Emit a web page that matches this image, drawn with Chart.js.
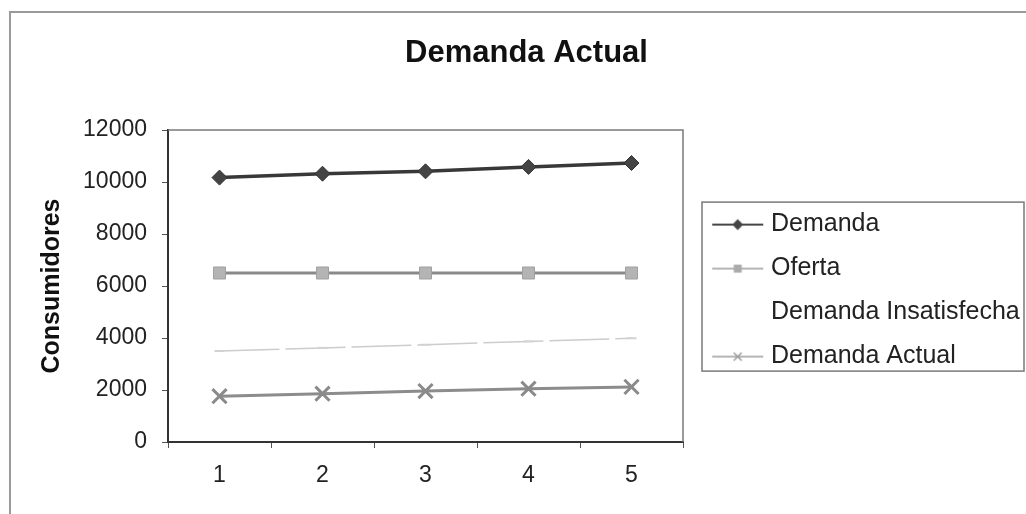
<!DOCTYPE html>
<html>
<head>
<meta charset="utf-8">
<script src="https://cdn.jsdelivr.net/npm/chart.js@4.4.1/dist/chart.umd.min.js"></script>
<style>
  html, body { margin: 0; padding: 0; background: #ffffff; }
  #wrap { position: relative; width: 1026px; height: 514px; }
  canvas { display: block; }
</style>
</head>
<body>
<div id="wrap"><canvas id="c" width="1026" height="514"></canvas></div>
<script>
// ---- data ----
const categories = ['1', '2', '3', '4', '5'];
const demanda = [10170, 10320, 10410, 10580, 10730];
const oferta = [6500, 6500, 6500, 6500, 6500];
const demandaInsatisfecha = [3500, 3620, 3740, 3870, 3990];
const demandaActual = [1760, 1860, 1960, 2050, 2120];
const yTickValues = [0, 2000, 4000, 6000, 8000, 10000, 12000];
const seriesNames = ['Demanda', 'Oferta', 'Demanda Insatisfecha', 'Demanda Actual'];
const chartTitle = 'Demanda Actual';
const yAxisTitle = 'Consumidores';

const FONT = "'Liberation Sans', Arial, Helvetica, sans-serif";

// ---- legend sample images (line + marker) ----
function legendSample(kind) {
  const c = document.createElement('canvas');
  c.width = 68; c.height = 20;
  const g = c.getContext('2d');
  const y = 10, x0 = 16, x1 = 67, cx = 41.5;
  if (kind === 'none') return c;
  g.lineCap = 'butt';
  if (kind === 'diamond') {
    g.strokeStyle = '#454545'; g.lineWidth = 2;
    g.beginPath(); g.moveTo(x0, y); g.lineTo(x1, y); g.stroke();
    g.fillStyle = '#454545';
    g.beginPath(); g.moveTo(cx - 5.5, y); g.lineTo(cx, y - 5.5); g.lineTo(cx + 5.5, y); g.lineTo(cx, y + 5.5); g.closePath(); g.fill();
  } else if (kind === 'square') {
    g.strokeStyle = '#9c9c9c'; g.lineWidth = 1.5;
    g.beginPath(); g.moveTo(x0, y); g.lineTo(x1, y); g.stroke();
    g.fillStyle = '#ababab';
    g.fillRect(cx - 4, y - 4, 8, 8);
  } else if (kind === 'cross') {
    g.strokeStyle = '#9c9c9c'; g.lineWidth = 1.5;
    g.beginPath(); g.moveTo(x0, y); g.lineTo(x1, y); g.stroke();
    g.beginPath();
    g.moveTo(cx - 4, y - 4); g.lineTo(cx + 4, y + 4);
    g.moveTo(cx + 4, y - 4); g.lineTo(cx - 4, y + 4);
    g.stroke();
  }
  return c;
}
const legendImgs = [legendSample('diamond'), legendSample('square'), legendSample('none'), legendSample('cross')];

// ---- frames plugin ----
const framePlugin = {
  id: 'frames',
  beforeDraw(chart) {
    const ctx = chart.ctx;
    ctx.save();
    ctx.fillStyle = '#ffffff';
    ctx.fillRect(0, 0, chart.width, chart.height);
    ctx.strokeStyle = '#9a9a9a';
    ctx.lineWidth = 2;
    ctx.beginPath();
    ctx.moveTo(chart.width, 12);
    ctx.lineTo(10, 12);
    ctx.lineTo(10, chart.height);
    ctx.stroke();
    ctx.restore();
  },
  beforeDatasetsDraw(chart) {
    const ctx = chart.ctx, a = chart.chartArea;
    ctx.save();
    ctx.strokeStyle = '#7a7a7a';
    ctx.lineWidth = 1.5;
    ctx.beginPath();
    ctx.moveTo(a.left, a.top);
    ctx.lineTo(a.right, a.top);
    ctx.lineTo(a.right, a.bottom);
    ctx.stroke();
    ctx.restore();
  },
  afterDraw(chart) {
    const lg = chart.legend;
    if (!lg || !lg.legendHitBoxes || !lg.legendHitBoxes.length) return;
    const hb = lg.legendHitBoxes;
    const ctx = chart.ctx;
    const top = hb[0].top - 10;
    const bottom = hb[hb.length - 1].top + hb[hb.length - 1].height + 2;
    const left = hb[0].left;
    const right = chart.width - 2;
    ctx.save();
    ctx.strokeStyle = '#7a7a7a';
    ctx.lineWidth = 1.5;
    ctx.strokeRect(left, top, right - left, bottom - top);
    ctx.restore();
  }
};

new Chart(document.getElementById('c'), {
  type: 'line',
  data: {
    labels: categories,
    datasets: [
      {
        label: seriesNames[0], data: demanda,
        borderColor: '#383838', backgroundColor: '#383838', borderWidth: 3.5,
        pointStyle: 'rectRot', pointRadius: 7.5, pointBorderWidth: 1,
        pointBackgroundColor: '#444444', pointBorderColor: '#333333', tension: 0
      },
      {
        label: seriesNames[1], data: oferta,
        borderColor: '#8a8a8a', backgroundColor: '#b0b0b0', borderWidth: 3,
        pointStyle: 'rect', pointRadius: 8.5, pointBorderWidth: 1,
        pointBackgroundColor: '#b4b4b4', pointBorderColor: '#a0a0a0', tension: 0
      },
      {
        label: seriesNames[2], data: demandaInsatisfecha,
        borderColor: '#cccccc', backgroundColor: '#d4d4d4', borderWidth: 1.5,
        borderDash: [60, 6],
        pointStyle: 'line', pointRadius: 5, pointBorderWidth: 2,
        pointBorderColor: '#d2d2d2', tension: 0
      },
      {
        label: seriesNames[3], data: demandaActual,
        borderColor: '#8c8c8c', backgroundColor: '#8c8c8c', borderWidth: 3,
        pointStyle: 'crossRot', pointRadius: 10, pointBorderWidth: 3,
        pointBorderColor: '#8a8a8a', tension: 0
      }
    ]
  },
  options: {
    responsive: false,
    animation: false,
    events: [],
    devicePixelRatio: 1,
    layout: { padding: { left: 27, right: 0, top: 0, bottom: 0 } },
    plugins: {
      tooltip: { enabled: false },
      title: {
        display: true, text: chartTitle, color: '#111111',
        font: { family: FONT, size: 31, weight: 'bold' },
        padding: { top: 34.4, bottom: 58.4 }
      },
      legend: {
        display: true, position: 'right', fullSize: false, align: 'center',
        maxWidth: 343,
        title: { display: true, text: '', font: { size: 1 }, padding: { top: 4, bottom: 4 } },
        labels: {
          usePointStyle: true, pointStyleWidth: 56.5, padding: 19,
          color: '#222222', font: { family: FONT, size: 25 },
          generateLabels(chart) {
            const items = Chart.defaults.plugins.legend.labels.generateLabels(chart);
            items.forEach((it, i) => { it.pointStyle = legendImgs[i]; it.fontColor = '#222222'; it.lineWidth = 0; });
            return items;
          }
        }
      }
    },
    scales: {
      x: {
        type: 'category', offset: true,
        grid: { display: true, drawOnChartArea: false, drawTicks: true, tickLength: 6, color: '#555555', offset: true },
        border: { display: true, color: '#333333', width: 2 },
        ticks: { color: '#222222', font: { family: FONT, size: 23 }, padding: 14, maxRotation: 0 },
        afterFit(s) { s.height = 72; }
      },
      y: {
        min: 0, max: 12000,
        afterBuildTicks(s) { s.ticks = yTickValues.map(v => ({ value: v })); },
        grid: { display: true, drawOnChartArea: false, drawTicks: true, tickLength: 6, color: '#555555' },
        border: { display: true, color: '#333333', width: 2 },
        ticks: { color: '#222222', font: { family: FONT, size: 23 }, padding: 15, callback: v => String(v) },
        title: {
          display: true, text: yAxisTitle, color: '#111111',
          font: { family: FONT, size: 25, weight: 'bold' },
          padding: { top: 10, bottom: 0 }
        },
        afterFit(s) { s.width = 141; }
      }
    }
  },
  plugins: [framePlugin]
});
</script>
</body>
</html>
